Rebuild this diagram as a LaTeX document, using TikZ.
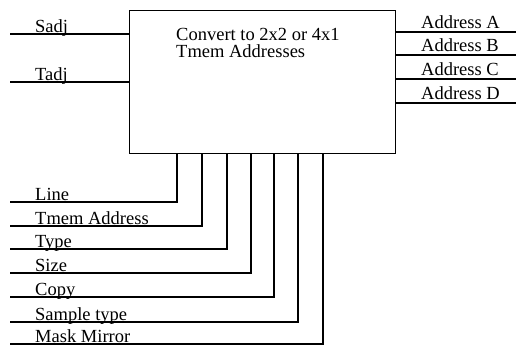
\documentclass[tikz,border=0pt]{standalone}
\usepackage{fontspec}
\setmainfont{Liberation Serif}
\begin{document}
\begin{tikzpicture}[x=1pt,y=-1pt,
  wire/.style={line width=1.3pt},
  txtf/.style={font=\fontsize{18.5}{17}\selectfont},
  lbl/.style={txtf, anchor=base west, inner sep=0pt}]
\useasboundingbox (0,0) rectangle (516,350);
\node[draw, line width=1.4pt, minimum width=266pt, minimum height=143pt, anchor=north west, inner sep=0pt] (box) at (129,10) {};
\node[txtf, anchor=base west, align=left, inner sep=0pt] (txt) at (176,57.7) {Convert to 2x2 or 4x1\\Tmem Addresses};
% left inputs
\coordinate (s0) at (10,34); \coordinate (t0) at (10,82);
\draw[wire] (s0) -- (s0 -| box.west);
\draw[wire] (t0) -- (t0 -| box.west);
\node[lbl] (sl) at (35,32.5) {Sadj};
\node[lbl] (tl) at (35,80.5) {Tadj};
% right outputs
\foreach \y/\n/\t in {32/a/A,55/b/B,79/c/C,103/d/D}{
  \coordinate (o\n) at (516,\y);
  \draw[wire] (o\n -| box.east) -- (o\n);
  \node[lbl] (l\n) at (421,\y-3.5) {Address \t};
}
% bottom inputs
\foreach \x/\y/\n/\t in {177/202/1/Line,202/226/2/Tmem Address,227/249/3/Type,251/273/4/Size,274/297/5/Copy,298/322/6/Sample type,323/344/7/Mask Mirror}{
  \coordinate (b\n) at (10,\y);
  \coordinate (c\n) at (\x,\y);
  \draw[wire] (b\n) -- (c\n) -- (c\n |- box.south);
  \node[lbl] (bl\n) at (35,\y-1.5) {\t};
}
\end{tikzpicture}
\end{document}
